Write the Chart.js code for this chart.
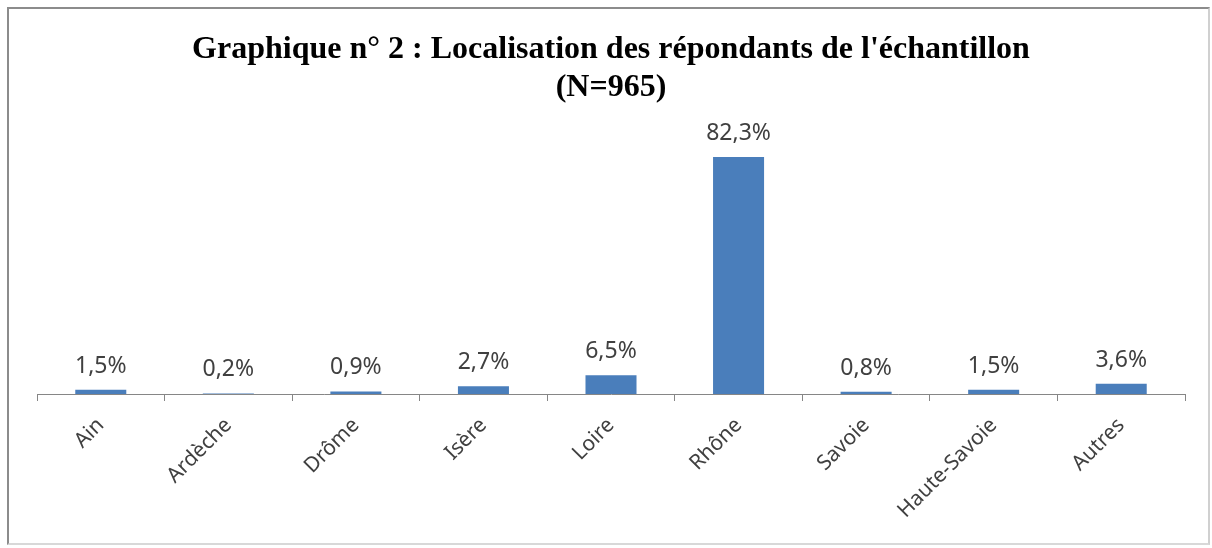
<!DOCTYPE html>
<html>
<head>
<meta charset="utf-8">
<script src="https://cdn.jsdelivr.net/npm/chart.js@4"></script>
<style>
  html, body { margin: 0; padding: 0; background: #fff; }
  #wrap { position: relative; width: 1212px; height: 548px; }
  #frame {
    position: absolute; left: 7px; top: 7px; width: 1203px; height: 538px;
    box-sizing: border-box; border: 2px solid #8c8c8c;
    border-right-color: #d0d0d0; border-bottom-color: #d8d8d8;
    pointer-events: none;
  }
</style>
</head>
<body>
<div id="wrap">
  <canvas id="chart" width="1212" height="548"></canvas>
  <div id="frame"></div>
</div>
<script>
const departements = ['Ain', 'Ardèche', 'Drôme', 'Isère', 'Loire', 'Rhône', 'Savoie', 'Haute-Savoie', 'Autres'];
const parts = [1.5, 0.2, 0.9, 2.7, 6.5, 82.3, 0.8, 1.5, 3.6];
const titre = ["Graphique n° 2 : Localisation des répondants de l'échantillon", '(N=965)'];

const fmt = v => v.toFixed(1).replace('.', ',') + '%';

// étiquettes de valeur au-dessus des barres
const valueLabels = {
    id: 'valueLabels',
    afterDatasetsDraw(chart) {
        const ctx = chart.ctx;
        const meta = chart.getDatasetMeta(0);
        ctx.save();
        ctx.font = '23px "Noto Sans"';
        ctx.fillStyle = '#404040';
        ctx.textAlign = 'center';
        ctx.textBaseline = 'alphabetic';
        meta.data.forEach((bar, i) => {
            ctx.fillText(fmt(parts[i]), bar.x, bar.y - 17);
        });
        ctx.restore();
    }
};

new Chart(document.querySelector('#chart'), {
    type: 'bar',
    data: {
        labels: departements,
        datasets: [{
            data: parts,
            backgroundColor: '#4a7ebb',
            borderWidth: 0,
            categoryPercentage: 1,
            barPercentage: 0.4
        }]
    },
    options: {
        responsive: false,
        animation: false,
        layout: {
            padding: { left: 37, right: 27, top: 0, bottom: 0 }
        },
        plugins: {
            legend: { display: false },
            tooltip: { enabled: false },
            title: {
                display: true,
                text: titre,
                color: '#000',
                font: { family: '"Liberation Serif"', size: 32, weight: 'bold', lineHeight: 1.19 },
                padding: { top: 31, bottom: 19 }
            }
        },
        scales: {
            x: {
                afterFit(scale) { scale.height = 154; },
                border: { display: true, color: '#868686', width: 1 },
                grid: {
                    display: true,
                    offset: true,
                    drawOnChartArea: false,
                    drawTicks: true,
                    tickLength: 7,
                    color: '#868686'
                },
                ticks: {
                    color: '#404040',
                    font: { family: '"Noto Sans"', size: 21 },
                    minRotation: 45,
                    maxRotation: 45,
                    padding: 12,
                    autoSkip: false
                }
            },
            y: {
                display: false,
                min: 0,
                max: 93
            }
        }
    },
    plugins: [valueLabels]
});
</script>
</body>
</html>
